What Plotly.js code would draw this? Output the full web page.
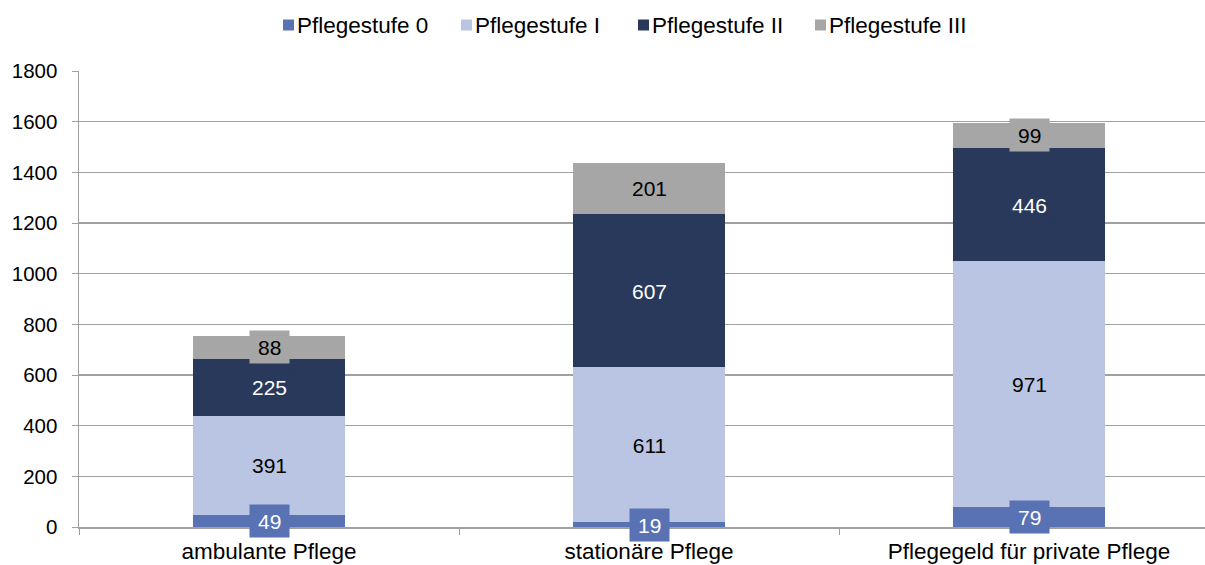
<!DOCTYPE html>
<html>
<head>
<meta charset="utf-8">
<script src="https://cdn.plot.ly/plotly-3.0.1.min.js"></script>
<style>html,body{margin:0;padding:0;background:#fff;}#chart{width:1205px;height:565px;}</style>
</head>
<body>
<div id="chart"></div>
<script>
const categories = ["ambulante Pflege", "stationäre Pflege", "Pflegegeld für private Pflege"];
const seriesNames = ["Pflegestufe 0", "Pflegestufe I", "Pflegestufe II", "Pflegestufe III"];
const stufe0 = [49, 19, 79];
const stufe1 = [391, 611, 971];
const stufe2 = [225, 607, 446];
const stufe3 = [88, 201, 99];
const yTicks = [0, 200, 400, 600, 800, 1000, 1200, 1400, 1600, 1800];

const seriesValues = [stufe0, stufe1, stufe2, stufe3];
const colors = ["#5872b3", "#b9c5e2", "#29395c", "#a6a6a6"];
const labelColors = ["#ffffff", "#000000", "#ffffff", "#000000"];
const FONT = "Liberation Sans, Arial, sans-serif";

// plot area geometry (pixels)
const W = 1205, H = 565, ML = 79, MR = 0, MT = 71, MB = 38;
const PW = W - ML - MR, PH = H - MT - MB;
const px2x = p => (p - ML) / PW;
const px2y = p => (H - MB - p) / PH;

const traces = seriesValues.map((vals, i) => ({
  type: "bar",
  name: seriesNames[i],
  x: categories,
  y: vals,
  marker: {color: colors[i], line: {width: 0}},
  hoverinfo: "none",
  showlegend: false
}));

const annotations = [];
const shapes = [];
categories.forEach((cat, c) => {
  let base = 0;
  seriesValues.forEach((vals, i) => {
    const v = vals[c];
    const txt = String(v);
    annotations.push({
      x: cat, y: base + v / 2, xref: "x", yref: "y",
      text: txt, showarrow: false,
      font: {family: FONT, size: 21, color: labelColors[i]},
      bgcolor: colors[i],
      width: txt.length * 11.7 + 16, height: 32,
      borderpad: 0, valign: "middle", align: "center"
    });
    base += v;
  });
});

// manual legend (layout positions in pixels)
const legendX = [283, 461, 638, 815];
const legendY = 25;
seriesNames.forEach((name, i) => {
  shapes.push({
    type: "rect", xref: "paper", yref: "paper",
    x0: px2x(legendX[i]), x1: px2x(legendX[i] + 11),
    y0: px2y(legendY + 5.5), y1: px2y(legendY - 5.5),
    fillcolor: colors[i], line: {width: 0}
  });
  annotations.push({
    xref: "paper", yref: "paper",
    x: px2x(legendX[i] + 12), y: px2y(legendY),
    xanchor: "left", yanchor: "middle",
    text: name, showarrow: false,
    font: {family: FONT, size: 22.5, color: "#000000"}
  });
});

const layout = {
  width: W, height: H,
  margin: {l: ML, r: MR, t: MT, b: MB},
  barmode: "stack",
  bargap: 0.6,
  paper_bgcolor: "#ffffff",
  plot_bgcolor: "#ffffff",
  font: {family: FONT, size: 21, color: "#000000"},
  showlegend: false,
  xaxis: {
    type: "category",
    range: [-0.5, 2.463],
    showline: true, linecolor: "#a0a0a0", linewidth: 1.5,
    ticks: "outside", tickson: "boundaries", ticklen: 6, tickcolor: "#a0a0a0",
    ticklabelstandoff: 3,
    showgrid: false,
    tickfont: {family: FONT, size: 22.5, color: "#000000"}
  },
  yaxis: {
    range: [0, 1800],
    tickvals: yTicks,
    showline: true, linecolor: "#a0a0a0", linewidth: 1.5,
    ticks: "outside", ticklen: 6, tickcolor: "#a0a0a0",
    ticklabelstandoff: 10,
    showgrid: true, gridcolor: "#a0a0a0", gridwidth: 1.5,
    zeroline: false,
    tickfont: {family: FONT, size: 20.5, color: "#000000"}
  },
  shapes: shapes,
  annotations: annotations
};

Plotly.newPlot("chart", traces, layout, {displayModeBar: false, staticPlot: true});
</script>
</body>
</html>
